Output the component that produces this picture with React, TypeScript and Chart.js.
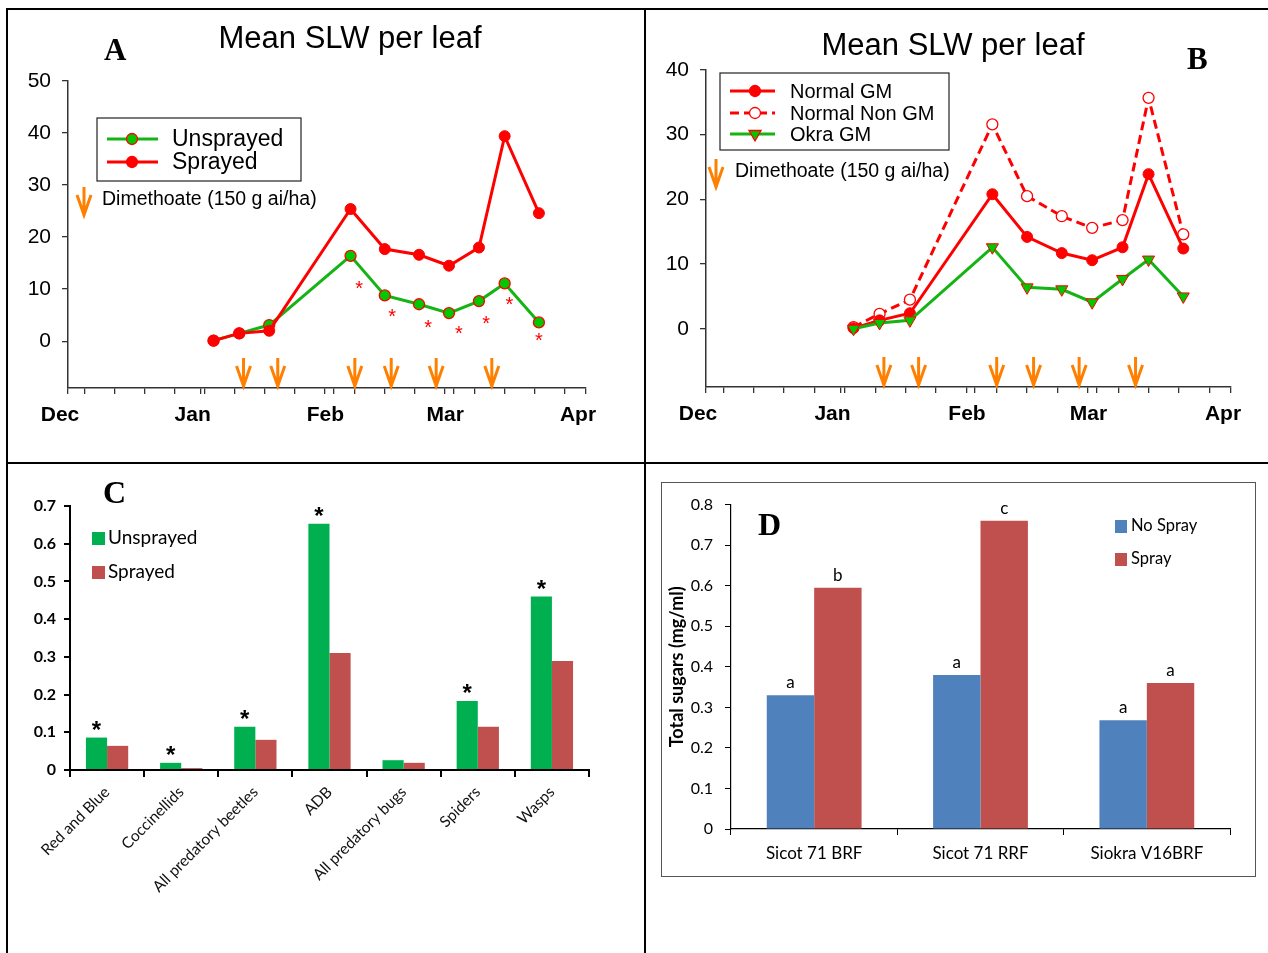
import React, { useEffect, useRef } from 'react';
import { Chart, registerables } from 'chart.js';

Chart.register(...registerables);

const SANS = '"Liberation Sans", Arial, sans-serif';
const SERIF = '"Liberation Serif", "Times New Roman", serif';
const CAL = 'Lato, "Open Sans", sans-serif';

const RED = '#FF0000';
const GREEN = '#14B414';
const GREEN_FILL = '#00C800';
const ORANGE = '#FF8000';
const AXIS = '#333333';
const BAR_GREEN = '#00B050';
const BAR_RED = '#C0504D';
const BAR_BLUE = '#4F81BD';

// Season axis: day numbers counted from 1 December
const monthDays = [0, 31, 62, 90, 121];
const monthNames = ['Dec', 'Jan', 'Feb', 'Mar', 'Apr'];
const weekDays = [4, 11, 18, 25, 32, 39, 46, 53, 60, 67, 74, 81, 88, 95, 102, 109, 116];
const sampleDays = [34, 40, 47, 66, 74, 82, 89, 96, 102, 110];
const sprayDays = [41, 49, 67, 75.5, 86, 99];

// Panel A: mean SLW per leaf
const slwUnsprayed = [0.1, 1.5, 3.1, 16.4, 8.8, 7.1, 5.4, 7.7, 11.1, 3.6];
const slwSprayed = [0.1, 1.5, 2.0, 25.4, 17.7, 16.6, 14.5, 18.0, 39.4, 24.6];
// significance marks (day, level)
const sigDaysA = [68, 75.7, 84.1, 91.3, 97.7, 103.1, 110];
const sigLevelsA = [10.5, 5.2, 3.0, 1.9, 3.8, 7.4, 0.45];

// Panel B: mean SLW per leaf by variety
const normalGM = [0.1, 1.3, 2.4, 20.8, 14.2, 11.7, 10.6, 12.6, 23.9, 12.4];
const normalNonGM = [0.26, 2.3, 4.5, 31.6, 20.5, 17.4, 15.6, 16.8, 35.7, 14.6];
const okraGM = [0, 0.9, 1.3, 12.6, 6.4, 6.1, 4.1, 7.7, 10.7, 5.0];

// Panel C: predators
const predatorGroups = ['Red and Blue', 'Coccinellids', 'All predatory beetles', 'ADB', 'All predatory bugs', 'Spiders', 'Wasps'];
const predUnsprayed = [0.086, 0.019, 0.115, 0.653, 0.026, 0.183, 0.46];
const predSprayed = [0.064, 0.005, 0.08, 0.31, 0.019, 0.115, 0.289];
const predSig = [true, true, true, true, false, true, true];

// Panel D: total sugars
const varieties = ['Sicot 71 BRF', 'Sicot 71 RRF', 'Siokra V16BRF'];
const sugarNoSpray = [0.33, 0.38, 0.268];
const sugarSpray = [0.595, 0.76, 0.36];
const lettersNoSpray = ['a', 'a', 'a'];
const lettersSpray = ['b', 'c', 'a'];

const pts = (ys: number[]) => sampleDays.map((d, i) => ({ x: d, y: ys[i] }));

function drawMarker(ctx: CanvasRenderingContext2D, kind: string, x: number, y: number, r: number, fill: string, stroke: string, lw: number) {
  ctx.save();
  ctx.beginPath();
  if (kind === 'circle') {
    ctx.arc(x, y, r, 0, Math.PI * 2);
  } else {
    ctx.moveTo(x, y + r);
    ctx.lineTo(x - 0.866 * r, y - 0.5 * r);
    ctx.lineTo(x + 0.866 * r, y - 0.5 * r);
    ctx.closePath();
  }
  ctx.fillStyle = fill;
  ctx.fill();
  ctx.lineWidth = lw;
  ctx.strokeStyle = stroke;
  ctx.stroke();
  ctx.restore();
}

function drawSprayArrow(ctx: CanvasRenderingContext2D, x: number, tip: number) {
  ctx.save();
  ctx.strokeStyle = ORANGE;
  ctx.lineWidth = 3;
  ctx.lineJoin = 'miter';
  ctx.beginPath();
  ctx.moveTo(x, tip - 29);
  ctx.lineTo(x, tip);
  ctx.moveTo(x - 7, tip - 21);
  ctx.lineTo(x, tip - 1);
  ctx.lineTo(x + 7, tip - 21);
  ctx.stroke();
  ctx.restore();
}

type LegendRow = { label: string; color: string; dash?: number[]; marker: string; fill: string; stroke: string; r: number };

type LineDecor = {
  titleX: number; titleY: number;
  letter: string; letterX: number; letterY: number;
  box: [number, number, number, number];
  rows: LegendRow[]; rowYs: number[];
  lineX0: number; lineX1: number; markX: number; textX: number; legendFont: string;
  noteX: number; noteY: number; noteArrowX: number; noteArrowTip: number;
  sig?: { days: number[]; levels: number[] };
};

function makeLineDecor(spec: LineDecor) {
  return {
    id: 'lineDecor',
    afterDraw(chart: any) {
      const { ctx, chartArea, scales } = chart;
      ctx.save();
      ctx.fillStyle = '#000';
      ctx.font = `31px ${SANS}`;
      ctx.textAlign = 'center';
      ctx.textBaseline = 'alphabetic';
      ctx.fillText('Mean SLW per leaf', spec.titleX, spec.titleY);
      ctx.font = `bold 31px ${SERIF}`;
      ctx.textAlign = 'left';
      ctx.fillText(spec.letter, spec.letterX, spec.letterY);

      // legend box
      const [bx, by, bw, bh] = spec.box;
      ctx.strokeStyle = '#222';
      ctx.lineWidth = 1.2;
      ctx.strokeRect(bx, by, bw, bh);
      spec.rows.forEach((row, i) => {
        const y = spec.rowYs[i];
        ctx.save();
        ctx.strokeStyle = row.color;
        ctx.lineWidth = 3;
        ctx.setLineDash(row.dash || []);
        ctx.beginPath();
        ctx.moveTo(spec.lineX0, y);
        ctx.lineTo(spec.lineX1, y);
        ctx.stroke();
        ctx.restore();
        drawMarker(ctx, row.marker, spec.markX, y, row.r, row.fill, row.stroke, 1.3);
        ctx.fillStyle = '#000';
        ctx.font = spec.legendFont;
        ctx.textAlign = 'left';
        ctx.textBaseline = 'middle';
        ctx.fillText(row.label, spec.textX, y + 1);
      });

      // spray note
      drawSprayArrow(ctx, spec.noteArrowX, spec.noteArrowTip);
      ctx.fillStyle = '#000';
      ctx.font = `19.5px ${SANS}`;
      ctx.textAlign = 'left';
      ctx.textBaseline = 'middle';
      ctx.fillText('Dimethoate (150 g ai/ha)', spec.noteX, spec.noteY);

      // spray dates along the axis
      sprayDays.forEach((d) => drawSprayArrow(ctx, scales.x.getPixelForValue(d), chartArea.bottom - 1));

      // significance marks
      if (spec.sig) {
        ctx.fillStyle = RED;
        ctx.font = `20px ${SANS}`;
        ctx.textAlign = 'center';
        ctx.textBaseline = 'middle';
        spec.sig.days.forEach((d, i) => {
          ctx.fillText('*', scales.x.getPixelForValue(d), scales.y.getPixelForValue(spec.sig!.levels[i]) + 3);
        });
      }
      ctx.restore();
    },
  };
}

function seasonAxes(yMax: number, yWidth: number, xHeight: number) {
  return {
    x: {
      type: 'linear',
      min: 0,
      max: 121,
      afterBuildTicks: (axis: any) => {
        axis.ticks = [...monthDays, ...weekDays].sort((a, b) => a - b).map((v) => ({ value: v }));
      },
      afterFit: (axis: any) => { axis.height = xHeight; },
      ticks: {
        autoSkip: false,
        maxRotation: 0,
        minRotation: 0,
        labelOffset: -8,
        padding: 9,
        color: '#000',
        font: { family: SANS, size: 21, weight: 'bold' },
        callback: (v: number) => {
          const i = monthDays.indexOf(v);
          return i >= 0 ? monthNames[i] : '';
        },
      },
      grid: { drawOnChartArea: false, tickLength: 6, color: AXIS, lineWidth: 1.3 },
      border: { color: AXIS, width: 1.5 },
    },
    y: {
      type: 'linear',
      min: -9,
      max: yMax,
      afterBuildTicks: (axis: any) => {
        const t = [];
        for (let v = 0; v <= yMax; v += 10) t.push({ value: v });
        axis.ticks = t;
      },
      afterFit: (axis: any) => { axis.width = yWidth; },
      ticks: { padding: 11, color: '#000', font: { family: SANS, size: 21 } },
      grid: { drawOnChartArea: false, tickLength: 6, color: AXIS, lineWidth: 1.3 },
      border: { color: AXIS, width: 1.5 },
    },
  };
}

function configA() {
  return {
    type: 'line',
    data: {
      datasets: [
        {
          label: 'Sprayed', data: pts(slwSprayed), order: 0,
          borderColor: RED, borderWidth: 3, pointRadius: 5.5, pointBackgroundColor: RED, pointBorderColor: RED, pointBorderWidth: 1,
        },
        {
          label: 'Unsprayed', data: pts(slwUnsprayed), order: 1,
          borderColor: GREEN, borderWidth: 3, pointRadius: 5.5, pointBackgroundColor: GREEN_FILL, pointBorderColor: RED, pointBorderWidth: 1.3,
        },
      ],
    },
    options: {
      animation: false,
      responsive: false,
      layout: { padding: { top: 71, right: 58, left: 0, bottom: 0 } },
      plugins: { legend: { display: false }, tooltip: { enabled: false } },
      scales: seasonAxes(50, 60, 73),
    },
    plugins: [
      makeLineDecor({
        titleX: 342, titleY: 38, letter: 'A', letterX: 96, letterY: 50,
        box: [89, 108, 204, 63],
        rows: [
          { label: 'Unsprayed', color: GREEN, marker: 'circle', fill: GREEN_FILL, stroke: RED, r: 5.5 },
          { label: 'Sprayed', color: RED, marker: 'circle', fill: RED, stroke: RED, r: 5.5 },
        ],
        rowYs: [129, 152], lineX0: 99, lineX1: 150, markX: 124, textX: 164, legendFont: `23px ${SANS}`,
        noteX: 94, noteY: 190, noteArrowX: 76, noteArrowTip: 206,
        sig: { days: sigDaysA, levels: sigLevelsA },
      }),
    ],
  };
}

function configB() {
  return {
    type: 'line',
    data: {
      datasets: [
        {
          label: 'Okra GM', data: pts(okraGM), order: 0,
          borderColor: GREEN, borderWidth: 3, pointStyle: 'triangle', rotation: 180, pointRadius: 7,
          pointBackgroundColor: GREEN_FILL, pointBorderColor: RED, pointBorderWidth: 1,
        },
        {
          label: 'Normal GM', data: pts(normalGM), order: 1,
          borderColor: RED, borderWidth: 3, pointRadius: 5.5, pointBackgroundColor: RED, pointBorderColor: RED, pointBorderWidth: 1,
        },
        {
          label: 'Normal Non GM', data: pts(normalNonGM), order: 2,
          borderColor: RED, borderWidth: 3, borderDash: [9, 5], pointRadius: 5.5, pointBackgroundColor: '#FFFFFF', pointBorderColor: RED, pointBorderWidth: 1.3,
        },
      ],
    },
    options: {
      animation: false,
      responsive: false,
      layout: { padding: { top: 60, right: 37, left: 0, bottom: 0 } },
      plugins: { legend: { display: false }, tooltip: { enabled: false } },
      scales: seasonAxes(40, 59, 74),
    },
    plugins: [
      makeLineDecor({
        titleX: 306, titleY: 45, letter: 'B', letterX: 540, letterY: 59,
        box: [73, 63, 229, 77],
        rows: [
          { label: 'Normal GM', color: RED, marker: 'circle', fill: RED, stroke: RED, r: 5.5 },
          { label: 'Normal Non GM', color: RED, dash: [9, 5], marker: 'circle', fill: '#FFFFFF', stroke: RED, r: 5.5 },
          { label: 'Okra GM', color: GREEN, marker: 'triangle', fill: GREEN_FILL, stroke: RED, r: 7 },
        ],
        rowYs: [81, 103, 124], lineX0: 83, lineX1: 128, markX: 108, textX: 143, legendFont: `20px ${SANS}`,
        noteX: 88, noteY: 162, noteArrowX: 69, noteArrowTip: 178,
      }),
    ],
  };
}

function configC() {
  return {
    type: 'bar',
    data: {
      labels: predatorGroups,
      datasets: [
        { label: 'Unsprayed', data: predUnsprayed, backgroundColor: BAR_GREEN },
        { label: 'Sprayed', data: predSprayed, backgroundColor: BAR_RED },
      ],
    },
    options: {
      animation: false,
      responsive: false,
      categoryPercentage: 0.57,
      barPercentage: 1.0,
      layout: { padding: { top: 42, right: 55, left: 0, bottom: 0 } },
      plugins: { legend: { display: false }, tooltip: { enabled: false } },
      scales: {
        x: {
          afterFit: (axis: any) => { axis.height = 183; },
          ticks: { maxRotation: 45, minRotation: 45, padding: 6, color: '#111', font: { family: CAL, size: 15.5 } },
          grid: { offset: true, drawOnChartArea: false, tickLength: 7, color: '#000', lineWidth: 2 },
          border: { color: '#000', width: 2 },
        },
        y: {
          min: 0,
          max: 0.7,
          afterFit: (axis: any) => { axis.width = 62; },
          ticks: {
            stepSize: 0.1, padding: 8, color: '#000', font: { family: CAL, size: 16, weight: 'bold' },
            callback: (v: number) => (v === 0 ? '0' : v.toFixed(1)),
          },
          grid: { drawOnChartArea: false, tickLength: 6, color: '#000', lineWidth: 2 },
          border: { color: '#000', width: 2 },
        },
      },
    },
    plugins: [
      {
        id: 'predDecor',
        afterDraw(chart: any) {
          const { ctx } = chart;
          ctx.save();
          ctx.fillStyle = '#000';
          ctx.font = `bold 32px ${SERIF}`;
          ctx.textAlign = 'left';
          ctx.textBaseline = 'alphabetic';
          ctx.fillText('C', 95, 39);
          const items = [
            { label: 'Unsprayed', color: BAR_GREEN, y: 74 },
            { label: 'Sprayed', color: BAR_RED, y: 108 },
          ];
          items.forEach((it) => {
            ctx.fillStyle = it.color;
            ctx.fillRect(84, it.y - 6, 13, 13);
            ctx.fillStyle = '#000';
            ctx.font = `19px ${CAL}`;
            ctx.textBaseline = 'middle';
            ctx.fillText(it.label, 100, it.y);
          });
          const meta = chart.getDatasetMeta(0);
          ctx.font = `bold 24px ${SANS}`;
          ctx.textAlign = 'center';
          ctx.textBaseline = 'alphabetic';
          meta.data.forEach((bar: any, i: number) => {
            if (predSig[i]) ctx.fillText('*', bar.x, bar.y);
          });
          ctx.restore();
        },
      },
    ],
  };
}

function configD() {
  return {
    type: 'bar',
    data: {
      labels: varieties,
      datasets: [
        { label: 'No Spray', data: sugarNoSpray, backgroundColor: BAR_BLUE },
        { label: 'Spray', data: sugarSpray, backgroundColor: BAR_RED },
      ],
    },
    options: {
      animation: false,
      responsive: false,
      categoryPercentage: 0.57,
      barPercentage: 1.0,
      layout: { padding: { top: 17, right: 25, left: 0, bottom: 0 } },
      plugins: { legend: { display: false }, tooltip: { enabled: false } },
      scales: {
        x: {
          afterFit: (axis: any) => { axis.height = 47; },
          ticks: { padding: 8, color: '#000', font: { family: CAL, size: 17 } },
          grid: { offset: true, drawOnChartArea: false, tickLength: 6, color: '#000', lineWidth: 1 },
          border: { color: '#000', width: 1.2 },
        },
        y: {
          min: 0,
          max: 0.8,
          afterFit: (axis: any) => { axis.width = 69; },
          title: {
            display: true, text: 'Total sugars (mg/ml)', color: '#000',
            font: { family: CAL, size: 18, weight: 'bold' }, padding: { top: 4, bottom: 0 },
          },
          ticks: {
            stepSize: 0.1, padding: 12, color: '#000', font: { family: CAL, size: 16 },
            callback: (v: number) => (v === 0 ? '0' : v.toFixed(1)),
          },
          grid: { drawOnChartArea: false, tickLength: 6, color: '#000', lineWidth: 1 },
          border: { color: '#000', width: 1.2 },
        },
      },
    },
    plugins: [
      {
        id: 'sugarDecor',
        afterDraw(chart: any) {
          const { ctx } = chart;
          ctx.save();
          ctx.fillStyle = '#000';
          ctx.font = `bold 32px ${SERIF}`;
          ctx.textAlign = 'left';
          ctx.textBaseline = 'alphabetic';
          ctx.fillText('D', 96, 52);
          const items = [
            { label: 'No Spray', color: BAR_BLUE, y: 43 },
            { label: 'Spray', color: BAR_RED, y: 76 },
          ];
          items.forEach((it) => {
            ctx.fillStyle = it.color;
            ctx.fillRect(453, it.y - 6, 12, 13);
            ctx.fillStyle = '#000';
            ctx.font = `16.5px ${CAL}`;
            ctx.textBaseline = 'middle';
            ctx.fillText(it.label, 469, it.y);
          });
          ctx.font = `17px ${CAL}`;
          ctx.textAlign = 'center';
          ctx.textBaseline = 'alphabetic';
          [lettersNoSpray, lettersSpray].forEach((letters, di) => {
            chart.getDatasetMeta(di).data.forEach((bar: any, i: number) => {
              ctx.fillText(letters[i], bar.x, bar.y - 7);
            });
          });
          ctx.restore();
        },
      },
    ],
  };
}

function ChartBox(props: { make: () => any; left: number; top: number; width: number; height: number }) {
  const ref = useRef<HTMLCanvasElement>(null);
  useEffect(() => {
    const chart = new Chart(ref.current as HTMLCanvasElement, props.make());
    return () => chart.destroy();
  }, []);
  return (
    <canvas
      ref={ref}
      width={props.width}
      height={props.height}
      style={{ position: 'absolute', left: props.left, top: props.top, width: props.width, height: props.height }}
    />
  );
}

const rule = (left: number, top: number, width: number, height: number, color = '#000') => (
  <div style={{ position: 'absolute', left, top, width, height, background: color }} />
);

export default function App() {
  return (
    <div style={{ position: 'absolute', left: 0, top: 0, width: 1268, height: 953, background: '#fff', overflow: 'hidden' }}>
      {rule(6, 8, 1262, 2)}
      {rule(6, 8, 2, 945)}
      {rule(644, 8, 2, 945)}
      {rule(6, 462, 1262, 2)}
      <div style={{ position: 'absolute', left: 661, top: 482, width: 593, height: 393, border: '1.5px solid #555' }} />
      <ChartBox make={configA} left={8} top={10} width={636} height={451} />
      <ChartBox make={configB} left={647} top={10} width={621} height={451} />
      <ChartBox make={configC} left={8} top={464} width={636} height={489} />
      <ChartBox make={configD} left={662} top={483} width={593} height={393} />
    </div>
  );
}
